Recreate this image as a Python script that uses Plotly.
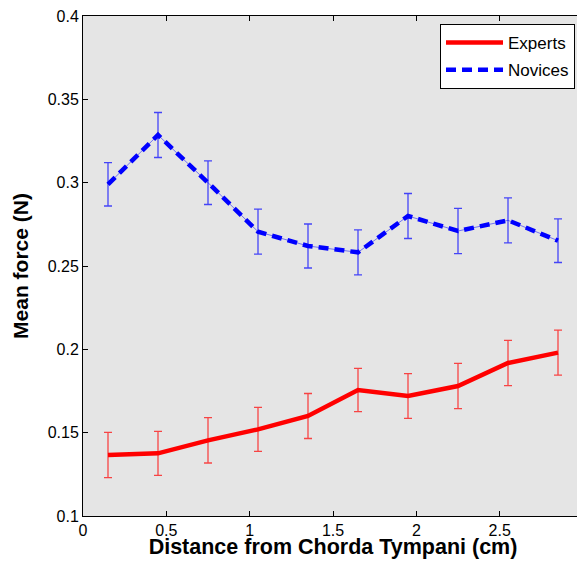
import plotly.graph_objects as go

distance = [0.15, 0.45, 0.75, 1.05, 1.35, 1.65, 1.95, 2.25, 2.55, 2.85]
experts = [0.1366, 0.1376, 0.1454, 0.1520, 0.1600, 0.1756, 0.1720, 0.1780, 0.1918, 0.1980]
experts_err = [0.0136, 0.0132, 0.0136, 0.0132, 0.0135, 0.0130, 0.0134, 0.0136, 0.0136, 0.0135]
novices = [0.2990, 0.3286, 0.3000, 0.2706, 0.2620, 0.2582, 0.2800, 0.2710, 0.2774, 0.2652]
novices_err = [0.0130, 0.0135, 0.0131, 0.0135, 0.0132, 0.0135, 0.0135, 0.0136, 0.0135, 0.0131]

x_ticks = [0, 0.5, 1, 1.5, 2, 2.5, 3]
x_tick_labels = ["0", "0.5", "1", "1.5", "2", "2.5", "3"]
y_ticks = [0.1, 0.15, 0.2, 0.25, 0.3, 0.35, 0.4]
y_tick_labels = ["0.1", "0.15", "0.2", "0.25", "0.3", "0.35", "0.4"]

FONT = "Arial, Liberation Sans, sans-serif"

fig = go.Figure()

# thin error-bar traces (MATLAB-style errorbar with thin connecting line)
fig.add_trace(go.Scatter(
    x=distance, y=experts, mode="lines", showlegend=False, hoverinfo="skip",
    line=dict(color="rgba(255,0,0,0.6)", width=1),
    error_y=dict(type="data", array=experts_err, visible=True,
                 color="rgba(255,0,0,0.7)", thickness=1.3, width=4)))
fig.add_trace(go.Scatter(
    x=distance, y=novices, mode="lines", showlegend=False, hoverinfo="skip",
    line=dict(color="rgba(0,0,255,0.5)", width=1),
    error_y=dict(type="data", array=novices_err, visible=True,
                 color="rgba(0,0,255,0.7)", thickness=1.3, width=4)))

# main thick lines
fig.add_trace(go.Scatter(
    x=distance, y=experts, mode="lines", name="Experts", legendgroup="e",
    line=dict(color="#ff0000", width=4.5)))
fig.add_trace(go.Scatter(
    x=distance, y=novices, mode="lines", name="Novices", legendgroup="n",
    line=dict(color="#0000ff", width=4.5, dash="10px,6px")))

axis_common = dict(
    showgrid=False, zeroline=False, showline=True, linecolor="black", linewidth=1,
    mirror="ticks", ticks="inside", ticklen=5, tickcolor="black", tickwidth=1,
    tickfont=dict(family=FONT, size=16, color="black"),
    ticklabeloverflow="allow",
)

fig.update_xaxes(
    range=[0, 3], tickmode="array", tickvals=x_ticks, ticktext=x_tick_labels,
    title=dict(text="<b>Distance from Chorda Tympani (cm)</b>",
               font=dict(family=FONT, size=21.5, color="black"), standoff=5),
    **axis_common)
fig.update_yaxes(
    range=[0.1, 0.4], tickmode="array", tickvals=y_ticks, ticktext=y_tick_labels,
    title=dict(text="<b>Mean force (N)</b>",
               font=dict(family=FONT, size=21, color="black"), standoff=13),
    **axis_common)

fig.update_layout(
    width=577, height=551,
    margin=dict(l=75, r=2, t=8, b=43, autoexpand=False),
    paper_bgcolor="white", plot_bgcolor="#e5e5e5",
    font=dict(family=FONT, color="black"),
    legend=dict(x=0.984, y=0.984, xanchor="right", yanchor="top",
                bgcolor="white", bordercolor="black", borderwidth=1,
                font=dict(family=FONT, size=17, color="black"),
                itemwidth=57, traceorder="grouped", tracegroupgap=2),
    showlegend=True,
)

fig.write_html("out.html")
